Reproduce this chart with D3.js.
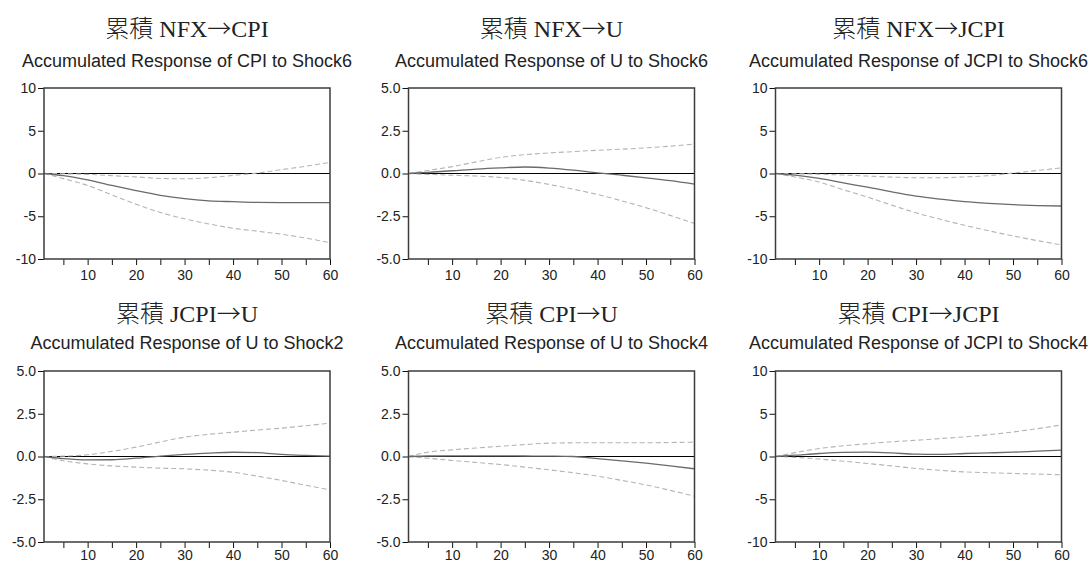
<!DOCTYPE html>
<html>
<head>
<meta charset="utf-8">
<script src="https://cdn.jsdelivr.net/npm/d3@7/dist/d3.min.js"></script>
<style>
  html, body { margin: 0; padding: 0; background: #fff; }
  svg { display: block; }
  .title { font-family: "Liberation Serif", "Noto Sans CJK JP", serif; font-size: 24px; fill: #222; }
  .title .cjk { font-family: "Noto Sans CJK JP", sans-serif; font-weight: 300; }
  .subtitle { font-family: "Liberation Sans", Arial, sans-serif; font-size: 18px; fill: #222; }
  .axis text { font-family: "Liberation Sans", Arial, sans-serif; font-size: 14px; fill: #222; }
  .axis line { stroke: #111; stroke-width: 1; }
  .axis path { display: none; }
</style>
</head>
<body>
<svg id="chart" width="1091" height="563"></svg>
<script>
// Forecast horizons at which the accumulated responses are recorded
const periods = [1, 5, 10, 15, 20, 25, 30, 35, 40, 45, 50, 55, 60];

// Panel headings
const titles = ["累積 NFX→CPI", "累積 NFX→U", "累積 NFX→JCPI", "累積 JCPI→U", "累積 CPI→U", "累積 CPI→JCPI"];
const subtitles = [
  "Accumulated Response of CPI to Shock6",
  "Accumulated Response of U to Shock6",
  "Accumulated Response of JCPI to Shock6",
  "Accumulated Response of U to Shock2",
  "Accumulated Response of U to Shock4",
  "Accumulated Response of JCPI to Shock4"
];

// Y-axis ranges and tick labels
const yRanges = [10, 5, 10, 5, 5, 10];
const ticksWide = [-10, -5, 0, 5, 10];
const ticksWideLabels = ["-10", "-5", "0", "5", "10"];
const ticksNarrow = [-5, -2.5, 0, 2.5, 5];
const ticksNarrowLabels = ["-5.0", "-2.5", "0.0", "2.5", "5.0"];
const xTickLabels = [10, 20, 30, 40, 50, 60];

// Accumulated responses (solid) with upper / lower bands (dashed)
const respCPI_S6  = [0, -0.25, -0.75, -1.4, -2.0, -2.55, -2.95, -3.2, -3.3, -3.38, -3.4, -3.4, -3.4];
const upCPI_S6    = [0, -0.03, -0.1, -0.25, -0.4, -0.58, -0.62, -0.5, -0.22, 0.05, 0.45, 0.85, 1.3];
const loCPI_S6    = [0, -0.6, -1.4, -2.5, -3.6, -4.55, -5.3, -5.9, -6.4, -6.75, -7.1, -7.55, -8.1];

const respU_S6    = [0, 0.07, 0.16, 0.26, 0.33, 0.38, 0.32, 0.2, 0.04, -0.1, -0.25, -0.42, -0.62];
const upU_S6      = [0, 0.18, 0.4, 0.68, 0.94, 1.1, 1.2, 1.28, 1.36, 1.42, 1.5, 1.6, 1.72];
const loU_S6      = [0, -0.05, -0.1, -0.15, -0.23, -0.4, -0.64, -0.92, -1.23, -1.6, -2.0, -2.45, -2.93];

const respJCPI_S6 = [0, -0.2, -0.58, -1.1, -1.6, -2.15, -2.64, -3.0, -3.3, -3.5, -3.65, -3.75, -3.8];
const upJCPI_S6   = [0, -0.03, -0.08, -0.18, -0.3, -0.42, -0.5, -0.5, -0.4, -0.25, 0.05, 0.35, 0.66];
const loJCPI_S6   = [0, -0.4, -1.0, -1.9, -2.76, -3.7, -4.6, -5.35, -6.06, -6.7, -7.3, -7.85, -8.35];

const respU_S2    = [0, -0.12, -0.2, -0.19, -0.1, 0.02, 0.12, 0.2, 0.25, 0.23, 0.12, 0.06, 0.02];
const upU_S2      = [0, 0.02, 0.1, 0.3, 0.55, 0.85, 1.13, 1.3, 1.42, 1.55, 1.66, 1.8, 1.95];
const loU_S2      = [0, -0.25, -0.43, -0.55, -0.62, -0.68, -0.72, -0.8, -0.92, -1.15, -1.4, -1.68, -1.95];

const respU_S4    = [0, 0.03, 0.04, 0.04, 0.04, 0.03, 0.02, 0.0, -0.12, -0.25, -0.39, -0.55, -0.72];
const upU_S4      = [0, 0.25, 0.39, 0.5, 0.6, 0.7, 0.78, 0.8, 0.8, 0.8, 0.8, 0.82, 0.84];
const loU_S4      = [0, -0.1, -0.23, -0.35, -0.47, -0.62, -0.78, -0.95, -1.15, -1.4, -1.66, -1.98, -2.32];

const respJCPI_S4 = [0, 0.15, 0.35, 0.48, 0.5, 0.42, 0.27, 0.25, 0.35, 0.42, 0.5, 0.62, 0.74];
const upJCPI_S4   = [0, 0.45, 0.93, 1.25, 1.5, 1.72, 1.9, 2.1, 2.3, 2.55, 2.87, 3.25, 3.7];
const loJCPI_S4   = [0, -0.1, -0.3, -0.55, -0.82, -1.1, -1.4, -1.62, -1.8, -1.9, -1.98, -2.06, -2.14];

const panels = [
  { resp: respCPI_S6,  up: upCPI_S6,  lo: loCPI_S6 },
  { resp: respU_S6,    up: upU_S6,    lo: loU_S6 },
  { resp: respJCPI_S6, up: upJCPI_S6, lo: loJCPI_S6 },
  { resp: respU_S2,    up: upU_S2,    lo: loU_S2 },
  { resp: respU_S4,    up: upU_S4,    lo: loU_S4 },
  { resp: respJCPI_S4, up: upJCPI_S4, lo: loJCPI_S4 }
];

// Grid layout of the six plot frames
const colLeft = [44, 408.5, 775.5];
const rowTop = [88, 371];
const plotW = 286, plotH = 171;

const svg = d3.select("#chart");

// Split a heading into runs so kanji and the arrow use the CJK face
function titleRuns(s) {
  const runs = [];
  for (const ch of s) {
    const cjk = /[→\u3000-\u9fff]/.test(ch);
    const last = runs[runs.length - 1];
    if (last && last.cjk === cjk) last.text += ch;
    else runs.push({ cjk, text: ch });
  }
  return runs;
}

panels.forEach((p, i) => {
  const col = i % 3, row = Math.floor(i / 3);
  const left = colLeft[col], top = rowTop[row];
  const g = svg.append("g").attr("transform", `translate(${left},${top})`);

  const x = d3.scaleLinear().domain([1, 60]).range([0, plotW]);
  const r = yRanges[i];
  const y = d3.scaleLinear().domain([-r, r]).range([plotH, 0]);
  const wide = r === 10;
  const yt = wide ? ticksWide : ticksNarrow;
  const ytl = wide ? ticksWideLabels : ticksNarrowLabels;

  // headings
  const t = g.append("text").attr("class", "title")
    .attr("x", plotW / 2).attr("y", row === 0 ? -51 : -49.5)
    .attr("text-anchor", "middle");
  titleRuns(titles[i]).forEach(run => {
    t.append("tspan").attr("class", run.cjk ? "cjk" : null).text(run.text);
  });
  g.append("text").attr("class", "subtitle")
    .attr("x", plotW / 2).attr("y", row === 0 ? -21.5 : -22.5)
    .attr("text-anchor", "middle").text(subtitles[i]);

  // axes
  g.append("g").attr("class", "axis")
    .call(d3.axisLeft(y).tickValues(yt).tickSize(6).tickPadding(2)
      .tickFormat((d, k) => ytl[k]));
  const xTicks = d3.range(5, 61, 5);
  g.append("g").attr("class", "axis")
    .attr("transform", `translate(0,${plotH})`)
    .call(d3.axisBottom(x).tickValues(xTicks).tickSize(6).tickPadding(row === 0 ? 5 : 2)
      .tickFormat(d => xTickLabels.includes(d) ? d : ""));

  // zero line
  g.append("line")
    .attr("x1", 0).attr("x2", plotW)
    .attr("y1", y(0)).attr("y2", y(0))
    .attr("stroke", "#000").attr("stroke-width", 1.2);

  const line = d3.line()
    .x((d, k) => x(periods[k]))
    .y(d => y(d))
    .curve(d3.curveMonotoneX);

  // confidence bands
  [p.up, p.lo].forEach(s => {
    g.append("path").attr("d", line(s))
      .attr("fill", "none").attr("stroke", "#b4b4b4")
      .attr("stroke-width", 1.1).attr("stroke-dasharray", "5,3");
  });
  // response
  g.append("path").attr("d", line(p.resp))
    .attr("fill", "none").attr("stroke", "#6a6a6a").attr("stroke-width", 1.3);

  // frame
  g.append("rect").attr("x", 0).attr("y", 0)
    .attr("width", plotW).attr("height", plotH)
    .attr("fill", "none").attr("stroke", "#3c3c3c").attr("stroke-width", 1.5);
});
</script>
</body>
</html>
